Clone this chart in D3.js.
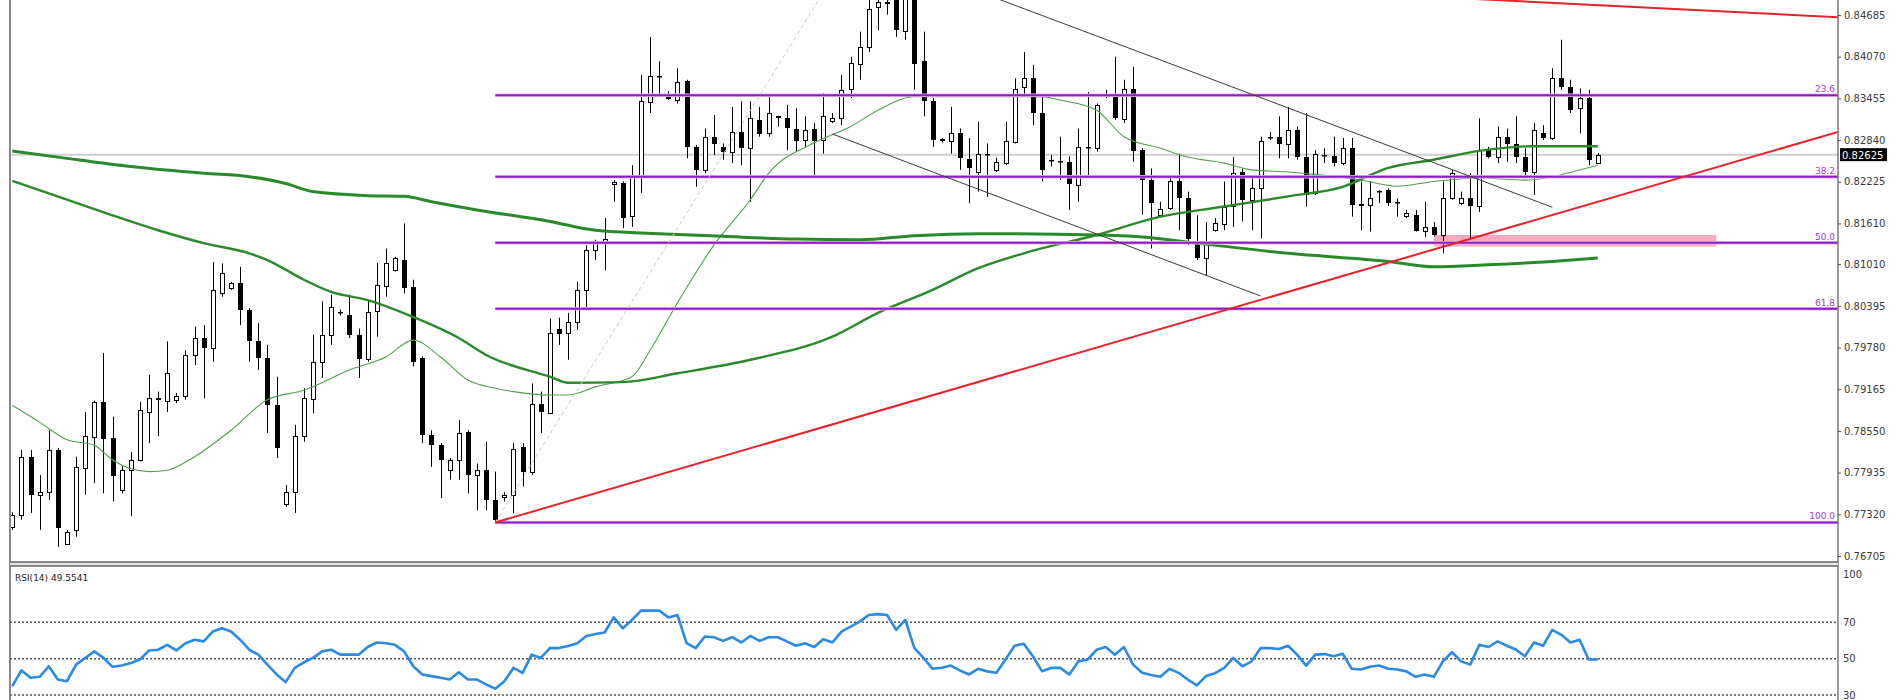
<!DOCTYPE html>
<html><head><meta charset="utf-8">
<script src="https://cdn.jsdelivr.net/npm/d3@7"></script>
<style>body{margin:0;background:#fff}svg{display:block}</style>
</head><body><svg id="c" width="1900" height="700"></svg>
<script>
// ---- DATA ----
// candles: [open, high, low, close], one per bar index 0..174
const candles = [
[0.7713,0.7735,0.7709,0.7731],[0.7731,0.7827,0.7724,0.7817],[0.7817,0.7827,0.7734,0.7761],[0.7761,0.7790,0.7709,0.7765],
[0.7765,0.7856,0.7753,0.7827],[0.7827,0.7830,0.7684,0.7712],[0.7689,0.7709,0.7687,0.7706],[0.7709,0.7817,0.7699,0.7802],
[0.7800,0.7883,0.7761,0.7847],[0.7847,0.7900,0.7778,0.7898],[0.7898,0.7970,0.7763,0.7844],[0.7844,0.7876,0.7751,0.7788],
[0.7768,0.7803,0.7763,0.7797],[0.7797,0.7824,0.7729,0.7812],[0.7812,0.7898,0.7810,0.7886],[0.7883,0.7938,0.7837,0.7903],
[0.7904,0.7913,0.7847,0.7901],[0.7898,0.7987,0.7883,0.7940],[0.7900,0.7911,0.7896,0.7906],[0.7906,0.7974,0.7901,0.7967],
[0.7967,0.8009,0.7952,0.7992],[0.7992,0.8011,0.7903,0.7977],[0.7977,0.8104,0.7957,0.8063],[0.8058,0.8102,0.8053,0.8088],
[0.8065,0.8075,0.8063,0.8073],[0.8073,0.8097,0.8011,0.8033],[0.8033,0.8036,0.7957,0.7987],[0.7987,0.8014,0.7945,0.7962],
[0.7962,0.7982,0.7852,0.7893],[0.7893,0.7935,0.7815,0.7829],[0.7748,0.7775,0.7743,0.7765],[0.7765,0.7864,0.7734,0.7847],
[0.7847,0.7918,0.7839,0.7903],[0.7903,0.7997,0.7881,0.7957],[0.7957,0.8046,0.7933,0.7997],[0.7997,0.8056,0.7982,0.8038],
[0.8030,0.8034,0.8025,0.8029],[0.8026,0.8056,0.7992,0.7997],[0.7997,0.8006,0.7933,0.7962],[0.7962,0.8048,0.7957,0.8031],
[0.8031,0.8103,0.7994,0.8070],[0.8068,0.8124,0.8053,0.8102],[0.8092,0.8112,0.8090,0.8110],[0.8107,0.8161,0.8058,0.8065],
[0.8067,0.8078,0.7950,0.7957],[0.7962,0.7965,0.7837,0.7849],[0.7849,0.7856,0.7802,0.7834],[0.7834,0.7837,0.7756,0.7812],
[0.7797,0.7815,0.7783,0.7812],[0.7812,0.7871,0.7783,0.7852],[0.7854,0.7856,0.7763,0.7790],[0.7790,0.7807,0.7738,0.7797],
[0.7797,0.7839,0.7738,0.7753],[0.7753,0.7795,0.7720,0.7724],[0.7758,0.7765,0.7751,0.7761],[0.7761,0.7837,0.7734,0.7829],
[0.7832,0.7837,0.7773,0.7795],[0.7795,0.7925,0.7790,0.7895],[0.7895,0.7913,0.7852,0.7883],[0.7882,0.8021,0.7880,0.8000],
[0.8006,0.8022,0.7982,0.7999],[0.8000,0.8029,0.7960,0.8016],[0.8016,0.8075,0.8004,0.8063],[0.8063,0.8129,0.8036,0.8122],
[0.8122,0.8137,0.8107,0.8132],[0.8133,0.8169,0.8092,0.8138],[0.8219,0.8225,0.8193,0.8222],[0.8221,0.8223,0.8154,0.8169],
[0.8171,0.8247,0.8156,0.8232],[0.8232,0.8380,0.8206,0.8341],[0.8341,0.8436,0.8324,0.8379],[0.8379,0.8400,0.8350,0.8377],
[0.8352,0.8356,0.8343,0.8344],[0.8344,0.8390,0.8338,0.8370],[0.8371,0.8373,0.8257,0.8274],[0.8274,0.8277,0.8215,0.8240],
[0.8240,0.8301,0.8235,0.8289],[0.8288,0.8321,0.8262,0.8277],[0.8274,0.8279,0.8255,0.8267],[0.8267,0.8333,0.8250,0.8296],
[0.8296,0.8341,0.8247,0.8272],[0.8272,0.8341,0.8193,0.8316],[0.8314,0.8333,0.8289,0.8294],[0.8294,0.8349,0.8289,0.8324],
[0.8319,0.8320,0.8304,0.8316],[0.8316,0.8336,0.8269,0.8301],[0.8301,0.8331,0.8267,0.8284],[0.8284,0.8319,0.8274,0.8299],
[0.8301,0.8309,0.8232,0.8284],[0.8284,0.8353,0.8264,0.8319],[0.8311,0.8324,0.8309,0.8316],[0.8316,0.8380,0.8306,0.8358],
[0.8358,0.8407,0.8346,0.8397],[0.8397,0.8444,0.8373,0.8422],[0.8422,0.8495,0.8414,0.8478],[0.8481,0.8500,0.8446,0.8488],
[0.8488,0.8500,0.8469,0.8485],[0.8495,0.8510,0.8436,0.8446],[0.8446,0.8545,0.8432,0.8500],[0.8500,0.8520,0.8358,0.8397],
[0.8400,0.8444,0.8319,0.8341],[0.8341,0.8346,0.8274,0.8284],[0.8285,0.8287,0.8280,0.8282],[0.8282,0.8333,0.8264,0.8294],
[0.8294,0.8301,0.8240,0.8257],[0.8256,0.8287,0.8191,0.8242],[0.8237,0.8311,0.8208,0.8263],[0.8263,0.8279,0.8200,0.8261],
[0.8240,0.8258,0.8237,0.8252],[0.8250,0.8311,0.8247,0.8282],[0.8282,0.8375,0.8279,0.8360],[0.8362,0.8414,0.8348,0.8375],
[0.8375,0.8395,0.8306,0.8324],[0.8324,0.8348,0.8223,0.8240],[0.8254,0.8262,0.8245,0.8253],[0.8253,0.8289,0.8225,0.8251],
[0.8251,0.8260,0.8181,0.8218],[0.8218,0.8301,0.8193,0.8274],[0.8274,0.8355,0.8230,0.8272],[0.8272,0.8338,0.8267,0.8336],
[0.8351,0.8358,0.8346,0.8350],[0.8350,0.8407,0.8314,0.8316],[0.8316,0.8373,0.8309,0.8360],[0.8360,0.8392,0.8252,0.8269],
[0.8269,0.8272,0.8174,0.8225],[0.8225,0.8242,0.8124,0.8191],[0.8174,0.8193,0.8171,0.8183],[0.8183,0.8231,0.8181,0.8223],
[0.8223,0.8264,0.8151,0.8198],[0.8198,0.8208,0.8129,0.8137],[0.8134,0.8173,0.8107,0.8110],[0.8110,0.8163,0.8085,0.8132],
[0.8151,0.8169,0.8149,0.8161],[0.8161,0.8223,0.8151,0.8186],[0.8186,0.8259,0.8156,0.8235],[0.8237,0.8242,0.8164,0.8196],
[0.8196,0.8230,0.8151,0.8213],[0.8213,0.8289,0.8139,0.8282],[0.8289,0.8296,0.8284,0.8288],[0.8289,0.8319,0.8257,0.8279],
[0.8279,0.8333,0.8257,0.8299],[0.8299,0.8304,0.8255,0.8259],[0.8259,0.8324,0.8186,0.8203],[0.8206,0.8269,0.8203,0.8263],
[0.8262,0.8272,0.8250,0.8261],[0.8261,0.8289,0.8245,0.8250],[0.8250,0.8287,0.8247,0.8272],[0.8272,0.8287,0.8171,0.8188],
[0.8190,0.8223,0.8151,0.8187],[0.8188,0.8223,0.8149,0.8198],[0.8209,0.8210,0.8191,0.8207],[0.8210,0.8213,0.8187,0.8191],
[0.8192,0.8198,0.8171,0.8190],[0.8171,0.8181,0.8169,0.8176],[0.8174,0.8181,0.8149,0.8151],[0.8150,0.8193,0.8141,0.8156],
[0.8156,0.8163,0.8142,0.8144],[0.8144,0.8223,0.8117,0.8198],[0.8198,0.8240,0.8196,0.8235],[0.8191,0.8208,0.8188,0.8198],
[0.8198,0.8235,0.8137,0.8186],[0.8186,0.8316,0.8178,0.8269],[0.8269,0.8274,0.8257,0.8259],[0.8259,0.8304,0.8250,0.8288],
[0.8288,0.8301,0.8252,0.8278],[0.8278,0.8319,0.8250,0.8259],[0.8259,0.8272,0.8232,0.8237],[0.8237,0.8309,0.8203,0.8299],
[0.8294,0.8306,0.8284,0.8287],[0.8287,0.8390,0.8284,0.8375],[0.8375,0.8432,0.8358,0.8362],[0.8362,0.8373,0.8324,0.8328],
[0.8331,0.8360,0.8294,0.8346],[0.8346,0.8358,0.8247,0.8255],[0.8250,0.8265,0.8249,0.82625]
];
// moving averages: [bar index, price]
const maSlow = [[0,0.8268],[6,0.8257],[13,0.8245],[21,0.8235],[26,0.8230],[30,0.8220],[33,0.8208],[39,0.8202],[43,0.8201],[46,0.8193],[51,0.8181],[59,0.8164],[64,0.8151],[71,0.8146],[78,0.8142],[86,0.8138],[93,0.8137],[99,0.8143],[106,0.8146],[119,0.8144],[124,0.8141],[130,0.8132],[140,0.8117],[151,0.8105],[156,0.8097],[162,0.8100],[169,0.8105],[174,0.8110]];
const maMid = [[0,0.8224],[6,0.8196],[11,0.8173],[16,0.8151],[21,0.8132],[26,0.8117],[28,0.8107],[32,0.8078],[35,0.8060],[39,0.8048],[44,0.8023],[49,0.7992],[52,0.7967],[59,0.7935],[61,0.7926],[67,0.7927],[73,0.7940],[81,0.7960],[90,0.7994],[95,0.8029],[101,0.8063],[106,0.8095],[111,0.8117],[119,0.8144],[126,0.8171],[133,0.8186],[140,0.8201],[146,0.8215],[151,0.8243],[156,0.8255],[161,0.8268],[167,0.8275],[174,0.8275]];
const maFast = [[0,0.7893],[3,0.7868],[6,0.7842],[9,0.7834],[11,0.7812],[15,0.7795],[17,0.7797],[20,0.7817],[24,0.7856],[28,0.7901],[32,0.7915],[37,0.7945],[41,0.7964],[44,0.7989],[47,0.7964],[50,0.7930],[53,0.7918],[55,0.7913],[59,0.7908],[61,0.7908],[64,0.7920],[68,0.7935],[70,0.7974],[73,0.8044],[77,0.8129],[81,0.8196],[83,0.8235],[88,0.8280],[92,0.8304],[95,0.8328],[99,0.8348],[106,0.8348],[113,0.8348],[115,0.8343],[119,0.8328],[122,0.8289],[126,0.8272],[129,0.8259],[133,0.8250],[136,0.8240],[140,0.8237],[144,0.8232],[148,0.8225],[152,0.8216],[156,0.8223],[161,0.8228],[166,0.8225],[169,0.8230],[172,0.8240],[174,0.8247]];
// RSI(14): [bar index, value]
const rsi = [[0,34.9],[1,43.5],[2,39.5],[3,40],[4,45.8],[5,38.5],[6,37.6],[7,46.7],[8,50.4],[9,54],[10,50.4],[11,45.5],[12,46.2],[13,47.6],[14,49.5],[15,54.5],[16,54.9],[17,57.6],[18,54.5],[19,58.5],[20,60.4],[21,59.5],[22,64.9],[23,66.7],[24,64.9],[25,60.4],[26,54.9],[27,52.2],[28,46.7],[29,41.3],[30,37.1],[31,44.9],[32,48],[33,50.4],[34,54],[35,54.9],[36,52.2],[37,52.2],[38,52.2],[39,56.4],[40,58.9],[41,58.5],[42,57.6],[43,54],[44,45.8],[45,41.3],[46,40.4],[47,39.5],[48,38.5],[49,42.5],[50,38.5],[51,38.5],[52,35.8],[53,33.5],[54,37.6],[55,44.9],[56,42.2],[57,52.2],[58,50.4],[59,55.8],[60,55.8],[61,57],[62,58.5],[63,62.5],[64,63.6],[65,64.4],[66,72.7],[67,66.7],[68,71.3],[69,76.4],[70,76.4],[71,76.4],[72,72.7],[73,74],[74,58.5],[75,55.8],[76,62.2],[77,61.8],[78,59.8],[79,61.8],[80,58.9],[81,62.5],[82,59.8],[83,61.8],[84,61.8],[85,59.5],[86,57.1],[87,58.5],[88,56.4],[89,60.7],[90,58.9],[91,64.9],[92,67.6],[93,70.4],[94,74],[95,74.5],[96,74],[97,65.8],[98,71.3],[99,55.8],[100,50.4],[101,44.4],[102,45],[103,46.2],[104,43.5],[105,41.3],[106,44.4],[107,43],[108,42.2],[109,49.5],[110,57.1],[111,58.2],[112,51.3],[113,43.1],[114,44.9],[115,44.9],[116,41.3],[117,48.5],[118,49.5],[119,54.9],[120,56.4],[121,52.2],[122,56.4],[123,46.7],[124,42.2],[125,41],[126,40],[127,44.4],[128,42.2],[129,38.5],[130,35.3],[131,40.4],[132,42],[133,44.9],[134,50.4],[135,45.8],[136,48.5],[137,55.8],[138,55.8],[139,55.3],[140,57.1],[141,52.2],[142,46.2],[143,52.2],[144,52.5],[145,51.3],[146,52.7],[147,44.4],[148,44],[149,45.5],[150,46.2],[151,44.4],[152,44],[153,43],[154,40],[155,41.3],[156,40],[157,48.5],[158,53.5],[159,48.5],[160,46.7],[161,57.6],[162,56.4],[163,59.5],[164,57.1],[165,55],[166,51.3],[167,58.9],[168,57.1],[169,65.8],[170,63.1],[171,58.9],[172,60.4],[173,49.5],[174,49.55]];
const priceTicks = [0.84685,0.84070,0.83455,0.82840,0.82225,0.81610,0.81010,0.80395,0.79780,0.79165,0.78550,0.77935,0.77320,0.76705];
const rsiTicks = [100,70,50,30];
const rsiLevels = [70,50,30];
const lastPrice = 0.82625;
const rsiLabel = "RSI(14) 49.5541";
// Fibonacci retracement anchors (bar, price)
const fibTimes = [53,91];
const fibPrices = [0.7720,0.8545];
const fibRatios = [0.236,0.382,0.5,0.618,1.0];
const fibNames = ["23.6","38.2","50.0","61.8","100.0"];
// drawn objects: [bar, price] pairs
const trendUp = [[53,0.7720],[174,0.8193]];
const trendTop = [[140,0.8506],[174,0.8483]];
const chanUpper = [[90,0.8584],[169,0.8185]];
const chanLower = [[90,0.8293],[137,0.8054]];
const zoneTimes = [156,187];
const zonePrices = [0.8127,0.8144];

// ---- LAYOUT ----
const W=1900,H=700, L=10, R=1838, mainBot=562, rsiTop=566, rsiBot=700;
const svg=d3.select('#c');
svg.append('rect').attr('width',W).attr('height',H).attr('fill','#fff');
const x=d3.scaleLinear().domain([0,candles.length-1]).range([12.3,1597.8]);
const y=d3.scaleLinear().domain([0.76705,0.84685]).range([556,15]);
const yr=d3.scaleLinear().domain([30,70]).range([695,622.3]);
const defs=svg.append('defs');
defs.append('clipPath').attr('id','cm').append('rect').attr('x',L).attr('y',0).attr('width',R-L).attr('height',mainBot);
defs.append('clipPath').attr('id','cr').append('rect').attr('x',L).attr('y',rsiTop).attr('width',R-L).attr('height',rsiBot-rsiTop);
const gm=svg.append('g').attr('clip-path','url(#cm)');

// current price line
gm.append('line').attr('x1',L).attr('x2',R).attr('y1',y(lastPrice)).attr('y2',y(lastPrice)).attr('stroke','#cfcfcf').attr('stroke-width',2);
// zone
gm.append('rect').attr('x',x(zoneTimes[0])).attr('width',x(zoneTimes[1])-x(zoneTimes[0]))
  .attr('y',y(zonePrices[1])).attr('height',y(zonePrices[0])-y(zonePrices[1])).attr('fill','#f5aac0');

// candles
const cg=gm.append('g');
candles.forEach((d,i)=>{
  const [o,h,l,c]=d; const cx=Math.round(x(i));
  cg.append('line').attr('x1',cx+0.5).attr('x2',cx+0.5).attr('y1',y(h)).attr('y2',y(l)).attr('stroke','#000').attr('stroke-width',1);
  const top=y(Math.max(o,c)), bot=y(Math.min(o,c));
  if(c>=o){
    cg.append('rect').attr('x',cx-1.5).attr('width',4).attr('y',Math.round(top)+0.5).attr('height',Math.max(1,Math.round(bot-top)))
      .attr('fill','#fff').attr('stroke','#000').attr('stroke-width',1);
  } else {
    cg.append('rect').attr('x',cx-2).attr('width',5).attr('y',Math.round(top)).attr('height',Math.max(1.5,Math.round(bot-top)))
      .attr('fill','#000');
  }
});

// moving averages
const ln=d3.line().x(d=>x(d[0])).y(d=>y(d[1])).curve(d3.curveMonotoneX);
gm.append('path').attr('d',ln(maFast)).attr('fill','none').attr('stroke','#4f9f4f').attr('stroke-width',1.1);
gm.append('path').attr('d',ln(maMid)).attr('fill','none').attr('stroke','#2a8a2a').attr('stroke-width',2.4);
gm.append('path').attr('d',ln(maSlow)).attr('fill','none').attr('stroke','#2a8a2a').attr('stroke-width',3);

// fibonacci
const fx0=x(fibTimes[0]);
const fibG=gm.append('g');
fibRatios.forEach((r,k)=>{
  const p=fibPrices[1]-r*(fibPrices[1]-fibPrices[0]);
  fibG.append('line').attr('x1',fx0).attr('x2',R).attr('y1',y(p)).attr('y2',y(p)).attr('stroke','#f0b8e8').attr('stroke-width',3.5);
  fibG.append('line').attr('x1',fx0).attr('x2',R).attr('y1',y(p)).attr('y2',y(p)).attr('stroke','#8a1ec6').attr('stroke-width',2);
  fibG.append('text').attr('x',R-3).attr('y',y(p)-3).attr('text-anchor','end').attr('font-family','DejaVu Sans, sans-serif')
    .attr('font-size',9).attr('fill','#a040d0').text(fibNames[k]);
});
gm.append('line').attr('x1',x(fibTimes[0])).attr('y1',y(fibPrices[0])).attr('x2',x(fibTimes[1])).attr('y2',y(fibPrices[1]))
  .attr('stroke','#d8c4ae').attr('stroke-width',1).attr('stroke-dasharray','4,3');

// trend lines
function ray(pts){const iR=x.invert(R);const [a,b]=pts;const s=(b[1]-a[1])/(b[0]-a[0]);return [a,[iR,a[1]+s*(iR-a[0])]];}
const sl=d3.line().x(d=>x(d[0])).y(d=>y(d[1]));
gm.append('path').attr('d',sl(chanUpper)).attr('stroke','#3a3a3a').attr('stroke-width',1).attr('fill','none');
gm.append('path').attr('d',sl(chanLower)).attr('stroke','#3a3a3a').attr('stroke-width',1).attr('fill','none');
gm.append('path').attr('d',sl(ray(trendUp))).attr('stroke','#e8232a').attr('stroke-width',2).attr('fill','none');
gm.append('path').attr('d',sl(ray(trendTop))).attr('stroke','#e0262c').attr('stroke-width',2).attr('fill','none');

// frames
svg.append('line').attr('x1',L).attr('x2',L).attr('y1',0).attr('y2',H).attr('stroke','#8a8a8a').attr('stroke-width',2);
svg.append('line').attr('x1',R).attr('x2',R).attr('y1',0).attr('y2',H).attr('stroke','#7a7a7a').attr('stroke-width',1.5);
svg.append('rect').attr('x',L).attr('y',mainBot).attr('width',R-L).attr('height',rsiTop-mainBot).attr('fill','#e6e6e6');
svg.append('line').attr('x1',L).attr('x2',R).attr('y1',mainBot).attr('y2',mainBot).attr('stroke','#666').attr('stroke-width',1.5);
svg.append('line').attr('x1',L).attr('x2',R).attr('y1',rsiTop).attr('y2',rsiTop).attr('stroke','#666').attr('stroke-width',1.5);

// price axis
const ya=svg.append('g').attr('transform',`translate(${R},0)`)
  .call(d3.axisRight(y).tickValues(priceTicks).tickSize(3).tickPadding(3).tickFormat(d3.format('.5f')));
ya.select('.domain').remove();
ya.attr('font-family','DejaVu Sans, sans-serif').attr('font-size',10);
ya.selectAll('text').attr('fill','#3a3a3a');
ya.selectAll('line').attr('stroke','#555');
// last price tag
svg.append('rect').attr('x',R+2).attr('y',y(lastPrice)-6.5).attr('width',47).attr('height',13).attr('fill','#000');
svg.append('text').attr('x',R+4).attr('y',y(lastPrice)+4).attr('font-family','DejaVu Sans, sans-serif').attr('font-size',10)
  .attr('fill','#fff').text(d3.format('.5f')(lastPrice));

// RSI panel
const gr=svg.append('g').attr('clip-path','url(#cr)');
rsiLevels.forEach(v=>{
  gr.append('line').attr('x1',L).attr('x2',R).attr('y1',yr(v)).attr('y2',yr(v)).attr('stroke','#555').attr('stroke-width',1.5).attr('stroke-dasharray','2,2');
});
const rl=d3.line().x(d=>x(d[0])).y(d=>yr(d[1]));
gr.append('path').attr('d',rl(rsi)).attr('fill','none').attr('stroke','#2a8be6').attr('stroke-width',2.6).attr('stroke-linejoin','round');
svg.append('text').attr('x',15).attr('y',581).attr('font-family','DejaVu Sans, sans-serif').attr('font-size',9).attr('fill','#222').text(rsiLabel);
const ra=svg.append('g').attr('transform',`translate(${R},0)`)
  .call(d3.axisRight(yr).tickValues(rsiTicks).tickSize(0).tickPadding(5));
ra.select('.domain').remove();
ra.attr('font-family','DejaVu Sans, sans-serif').attr('font-size',10);
ra.selectAll('text').attr('fill','#3a3a3a').attr('dy',d=>d===100?'1.0em':'0.32em');
</script></body></html>
